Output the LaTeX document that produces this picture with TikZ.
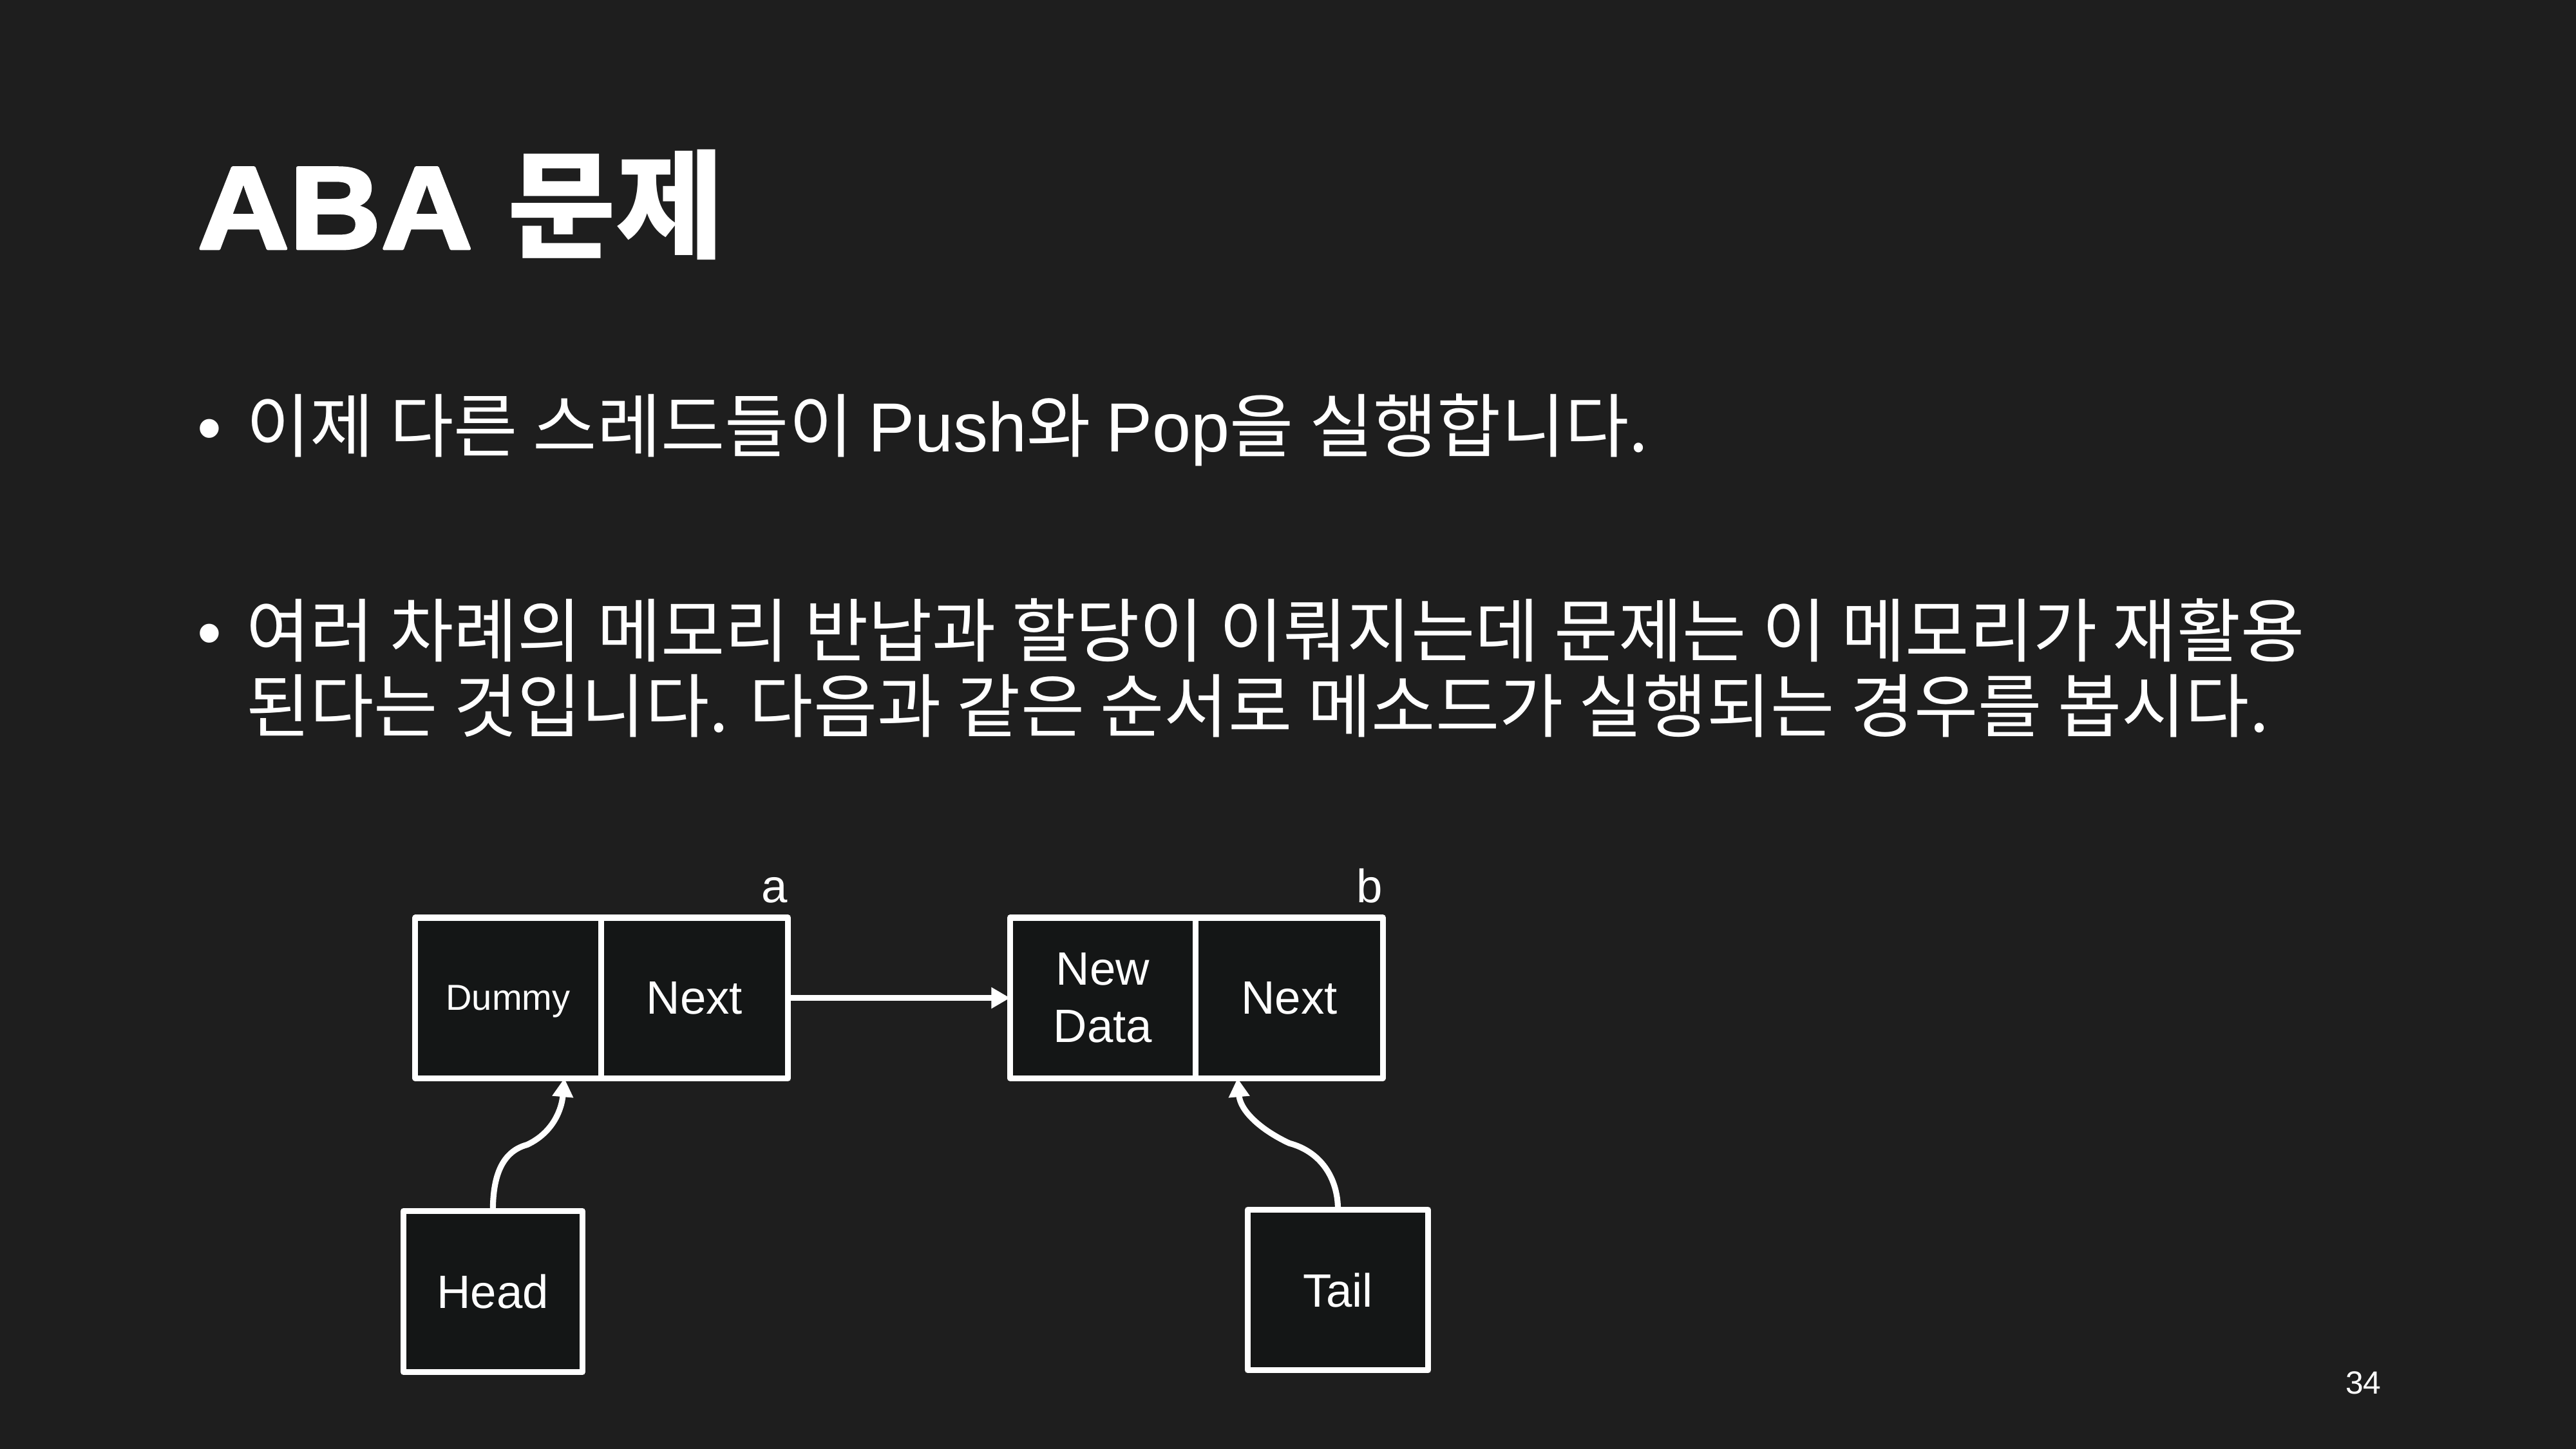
\documentclass[tikz,border=0pt]{standalone}
\usepackage{fontspec}
\setmainfont{Liberation Sans}
\newfontfamily\kr{Noto Sans CJK KR}
\newfontfamily\heavy[FakeBold=2.5,FakeStretch=1.08]{Liberation Sans Bold}
\newcommand\kor[1]{{\kr #1}}
\usetikzlibrary{arrows.meta,positioning}
\definecolor{slidebg}{HTML}{1E1E1E}
\definecolor{cellfill}{HTML}{141616}
\tikzset{
  every picture/.style={
    line join=round,
    >={Triangle[length=7pt,width=7.5pt]},   % small flat-backed tips
  },
  cell/.style={draw=white, line width=2.2pt, fill=cellfill, text=white,
    outer sep=0pt, inner sep=0pt, minimum height=2.11cm, align=center,
    font=\fontsize{17.5}{21.4}\selectfont},
  lbl/.style={text=white, inner sep=0pt, font=\fontsize{17.5}{21}\selectfont},
  body/.style={text=white, inner sep=0pt, align=left,
    font=\fontsize{26}{28}\selectfont},
  ptr/.style={->, draw=white, line width=2.2pt},
}

\begin{document}
\begin{tikzpicture}
\fill[slidebg](0,0)rectangle(33.867,19.05);
\useasboundingbox(0,0)rectangle(33.867,19.05);
% heading and bullet text
\node[text=white,inner sep=0pt,anchor=base west,font=\fontsize{44}{48}\selectfont](title)at(2.59,15.78){\heavy ABA \kr\bfseries 문제};
\node[body,anchor=base west](dot1)at(2.59,13.11){•};
\node[body,anchor=base west](line1)at(3.23,13.11){\kor{이제 다른 스레드들이 }Push\kor{와 }Pop\kor{을 실행합니다.}};
\node[body,anchor=base west](dot2)at(2.59,10.42){•};
% base of a two-line node is its last line
\node[body,anchor=base west](line2)at(3.23,9.43){\kor{여러 차례의 메모리 반납과 할당이 이뤄지는데 문제는 이 메모리가 재활용}\\\kor{된다는 것입니다. 다음과 같은 순서로 메소드가 실행되는 경우를 봅시다.}};
% the two list nodes
\node[cell,minimum width=2.44cm,text depth=0pt,font=\fontsize{13.5}{16}\selectfont](dummy)at(6.68,5.93){Dummy};
\node[cell,minimum width=2.46cm,right=0pt of dummy](nexta){Next};
\node[cell,minimum width=2.44cm](data)at(14.50,5.93){New\\Data};
\node[cell,minimum width=2.46cm,right=0pt of data](nextb){Next};
\node[lbl,anchor=base east](a)at([yshift=0.2cm]nexta.north east){a};
\node[lbl,anchor=base east](b)at([yshift=0.2cm]nextb.north east){b};
% pointers
\node[cell,minimum width=2.35cm,minimum height=2.12cm](head)at(6.48,2.07){Head};
\node[cell,minimum width=2.37cm,minimum height=2.11cm](tail)at(17.59,2.09){Tail};
\coordinate(hk)at(6.93,4.0);
\coordinate(tk)at(16.95,4.02);
\draw[ptr](nexta)--(data);
\draw[ptr](head.north)to[out=90,in=195](hk)to[out=25,in=-95]([xshift=-0.48cm]dummy.south east);
\draw[ptr](tail.north)to[out=90,in=-15](tk)to[out=155,in=-85]([xshift=0.55cm]data.south east);
\node[text=white,inner sep=0pt,anchor=base west,font=\fontsize{12}{14}\selectfont](page)at(30.83,0.726){34};
\end{tikzpicture}
\end{document}
